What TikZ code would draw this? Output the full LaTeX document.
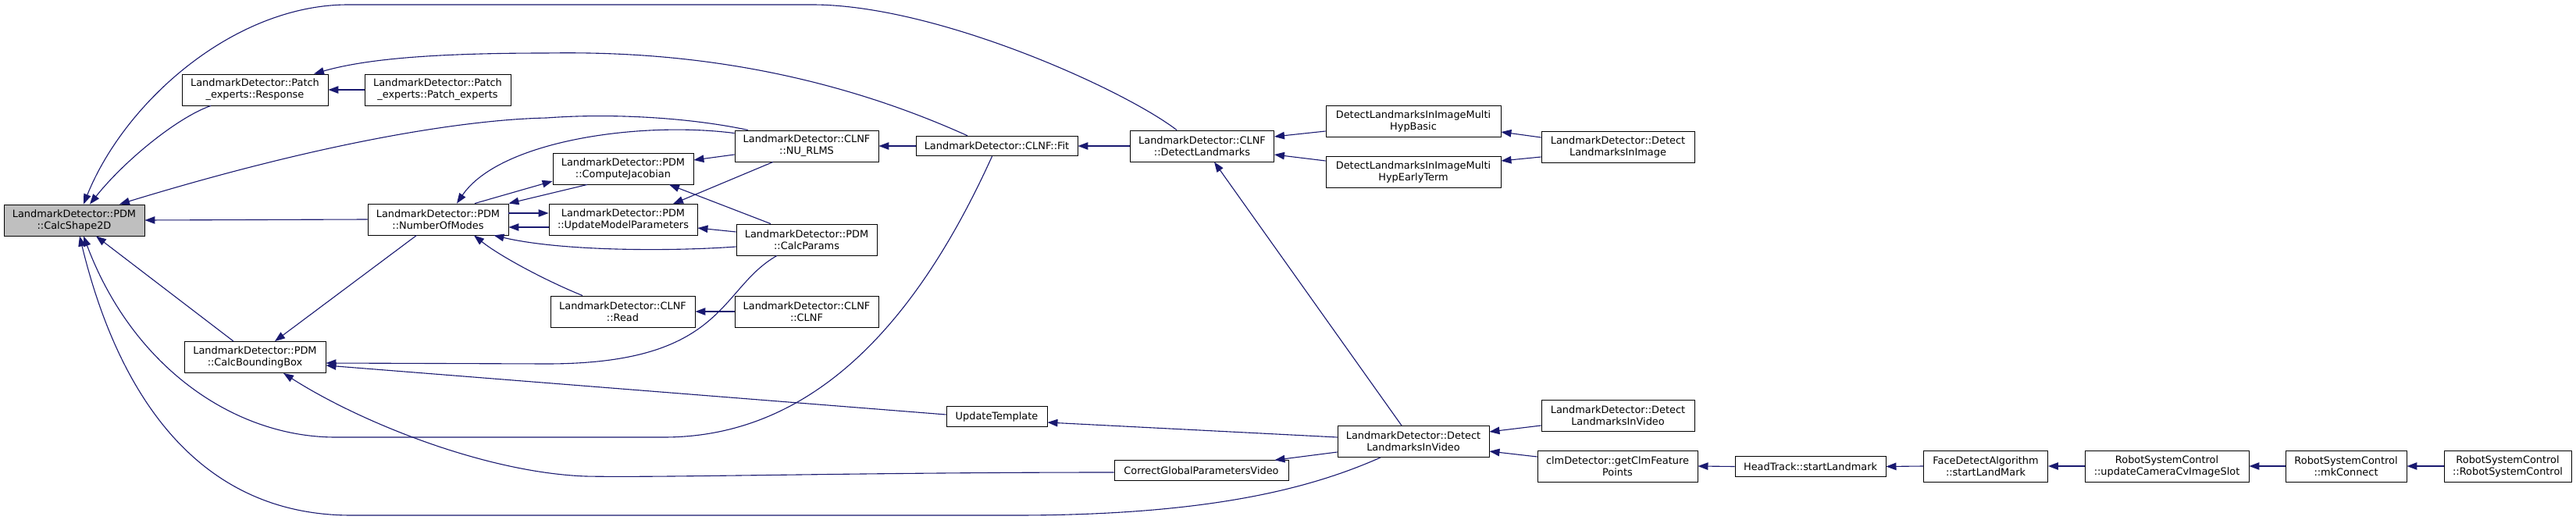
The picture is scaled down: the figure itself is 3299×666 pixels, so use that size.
\documentclass[tikz,border=0pt]{standalone}
\usepackage{fontspec}
\setmainfont{DejaVu Sans}
\usetikzlibrary{arrows.meta}
\definecolor{edgecol}{HTML}{191970}
\definecolor{rootfill}{HTML}{BFBFBF}
\tikzset{
  box/.style={draw=black, line width=0.9pt, fill=white, inner sep=0pt, align=center,
    font=\fontsize{12.9}{15}\selectfont, minimum height=40pt},
  box1/.style={box, minimum height=25.5pt},
  root/.style={box, fill=rootfill},
  edge/.style={draw=edgecol, line width=1.1pt, -{Triangle[length=13pt,width=9.5pt]}}
}
\begin{document}
\begin{tikzpicture}[x=1pt,y=-1pt]
\fill[white] (0,0) rectangle (3299,666);
\useasboundingbox (0,0) rectangle (3299,666);

\node[root, minimum width=180pt] (cs) at (95,282) {LandmarkDetector::PDM\\::CalcShape2D};
\node[box, minimum width=187pt] (resp) at (326.5,115) {LandmarkDetector::Patch\\\_experts::Response};
\node[box, minimum width=187pt] (pe) at (560.5,115) {LandmarkDetector::Patch\\\_experts::Patch\_experts};
\node[box, minimum width=180pt] (nom) at (561,281) {LandmarkDetector::PDM\\::NumberOfModes};
\node[box, minimum width=181pt] (cbb) at (326.5,457.5) {LandmarkDetector::PDM\\::CalcBoundingBox};
\node[box, minimum width=180pt] (cj) at (798,216) {LandmarkDetector::PDM\\::ComputeJacobian};
\node[box, minimum width=190pt] (ump) at (798,281.5) {LandmarkDetector::PDM\\::UpdateModelParameters};
\node[box, minimum width=185pt] (rd) at (797.5,399) {LandmarkDetector::CLNF\\::Read};
\node[box, minimum width=184pt] (nu) at (1033,187) {LandmarkDetector::CLNF\\::NU\_RLMS};
\node[box, minimum width=180pt] (cp) at (1033,307) {LandmarkDetector::PDM\\::CalcParams};
\node[box, minimum width=184pt] (clnf) at (1033,399) {LandmarkDetector::CLNF\\::CLNF};
\node[box1, minimum width=207pt] (fit) at (1276.5,187) {LandmarkDetector::CLNF::Fit};
\node[box1, minimum width=129pt] (ut) at (1276.5,533.5) {UpdateTemplate};
\node[box, minimum width=184pt] (dl) at (1539.5,187) {LandmarkDetector::CLNF\\::DetectLandmarks};
\node[box1, minimum width=223pt] (cgp) at (1538.5,602.5) {CorrectGlobalParametersVideo};
\node[box, minimum width=224pt] (mhb) at (1810,155) {DetectLandmarksInImageMulti\\HypBasic};
\node[box, minimum width=224pt] (mhet) at (1810,220) {DetectLandmarksInImageMulti\\HypEarlyTerm};
\node[box, minimum width=194pt] (dliv) at (1810,565.5) {LandmarkDetector::Detect\\LandmarksInVideo};
\node[box, minimum width=196pt] (dlii) at (2072,188) {LandmarkDetector::Detect\\LandmarksInImage};
\node[box, minimum width=196pt] (dlivr) at (2072,532.5) {LandmarkDetector::Detect\\LandmarksInVideo};
\node[box, minimum width=205pt] (gcf) at (2071.5,597) {clmDetector::getClmFeature\\Points};
\node[box1, minimum width=193pt] (ht) at (2318.5,597.5) {HeadTrack::startLandmark};
\node[box, minimum width=159pt] (fda) at (2543,597) {FaceDetectAlgorithm\\::startLandMark};
\node[box, minimum width=210pt] (ucs) at (2775,597) {RobotSystemControl\\::updateCameraCvImageSlot};
\node[box, minimum width=155pt] (mk) at (3004.5,597) {RobotSystemControl\\::mkConnect};
\node[box, minimum width=163pt] (rsc) at (3211.5,597) {RobotSystemControl\\::RobotSystemControl};

% straight connectors
\draw[edge] (pe.west) -- (resp.east);
\draw[edge] (nom.west) -- (cs.east);
\draw[edge] ([xshift=-27.5pt]cbb.north) -- ([xshift=28pt]cs.south);
\draw[edge] ([xshift=-27.5pt]nom.south) -- ([xshift=25.5pt]cbb.north);
\draw[edge] ([xshift=47pt]nom.north) -- ([yshift=-16pt]cj.west);
\draw[edge] ([xshift=-46pt]cj.south) -- (nom.north east);
\draw[edge] ([yshift=8pt]nom.east) -- ([yshift=8.5pt]ump.west);
\draw[edge] ([yshift=-9.5pt]ump.west) -- ([yshift=-10pt]nom.east);
\draw[edge] ([yshift=-11pt]nu.west) -- ([yshift=11pt]cj.east);
\draw[edge] ([xshift=-43pt]nu.south) -- ([xshift=64pt]ump.north);
\draw[edge] ([xshift=-46pt]cp.north) -- ([xshift=59pt]cj.south);
\draw[edge] ([yshift=10pt]cp.west) -- ([yshift=-10.5pt]ump.east);
\draw[edge] (clnf.west) -- (rd.east);
\draw[edge] (fit.west) -- (nu.east);
\draw[edge] (dl.west) -- (fit.east);
\draw[edge] ([yshift=2.5pt]ut.west) -- ([yshift=-10.5pt]cbb.east);
\draw[edge] ([yshift=5.5pt]dliv.west) -- ([yshift=-7.5pt]ut.east);
\draw[edge] ([yshift=-13.5pt]dliv.west) -- ([xshift=-18pt]cgp.north east);
\draw[edge] ([xshift=-15pt]dliv.north) -- ([xshift=15.5pt]dl.south);
\draw[edge] ([yshift=-13pt]mhb.west) -- ([yshift=12pt]dl.east);
\draw[edge] ([yshift=14pt]mhet.west) -- ([yshift=-11pt]dl.east);
\draw[edge] ([yshift=12pt]dlii.west) -- ([yshift=-14pt]mhb.east);
\draw[edge] ([yshift=-13pt]dlii.west) -- ([yshift=14pt]mhet.east);
\draw[edge] ([yshift=-12.5pt]dlivr.west) -- ([yshift=12.5pt]dliv.east);
\draw[edge] ([yshift=12pt]gcf.west) -- ([yshift=-12.5pt]dliv.east);
\draw[edge] (ht.west) -- (gcf.east);
\draw[edge] (fda.west) -- (ht.east);
\draw[edge] (ucs.west) -- (fda.east);
\draw[edge] (mk.west) -- (ucs.east);
\draw[edge] (rsc.west) -- (mk.east);

% curved connectors
\draw[edge] ([xshift=-56.5pt]resp.south) .. controls (228,150) and (160,205) .. ([xshift=20pt]cs.north);
\draw[edge] ([xshift=-32.5pt]dl.north) .. controls (1440,115) and (1200,6) .. (1040,6) -- (446,6) .. controls (300,6) and (160,130) .. ([xshift=12pt]cs.north);
\draw[edge] ([xshift=-37.5pt]fit.north) .. controls (1020,75) and (820,66) .. (700,68) .. controls (560,68) and (470,75) .. ([xshift=75.5pt]resp.north);
\draw[edge] ([xshift=-75pt]nu.north) .. controls (880,150) and (780,145) .. (700,151) .. controls (600,153) and (420,180) .. ([xshift=58pt]cs.north);
\draw[edge] ([yshift=-4pt]nu.north west) .. controls (820,155) and (640,180) .. ([xshift=24pt]nom.north);
\draw[edge] ([yshift=-9pt]cp.west) .. controls (860,322) and (720,322) .. ([xshift=-19pt]nom.south east);
\draw[edge] ([xshift=-51.5pt]rd.north) .. controls (700,360) and (640,328) .. ([xshift=46pt]nom.south);
\draw[edge] ([xshift=-6pt]fit.south) .. controls (1180,400) and (1050,560) .. (850,560) -- (430,560) .. controls (300,560) and (170,470) .. ([xshift=12pt]cs.south);
\draw[edge] ([xshift=-42pt]dliv.south) .. controls (1680,625) and (1550,660) .. (1300,660) -- (450,660) .. controls (250,660) and (150,500) .. ([xshift=7pt]cs.south);
\draw[edge] ([xshift=-38pt]cp.south) .. controls (920,370) and (930,466) .. (700,466) -- ([yshift=-7.5pt]cbb.east);
\draw[edge] ([yshift=-2.5pt]cgp.west) .. controls (1100,605) and (850,612) .. (750,610) .. controls (620,605) and (460,540) .. ([xshift=36.5pt]cbb.south);
\end{tikzpicture}
\end{document}
